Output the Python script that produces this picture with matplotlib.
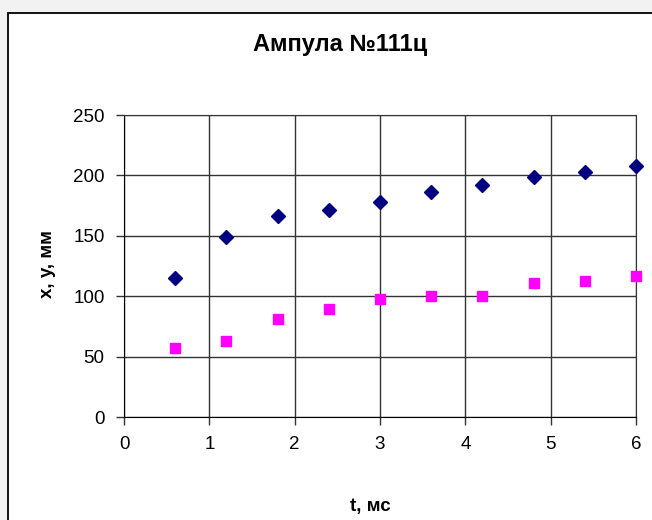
import matplotlib
matplotlib.use('Agg')
import matplotlib.pyplot as plt
from matplotlib.patches import Rectangle

plt.rcParams['font.family'] = ['Liberation Sans', 'DejaVu Sans']

# time, ms
t = [0.6, 1.2, 1.8, 2.4, 3.0, 3.6, 4.2, 4.8, 5.4, 6.0]
# x and y coordinates, mm
x_mm = [115, 149, 166, 171, 178, 186, 192, 199, 203, 208]
y_mm = [57, 63, 81.5, 89, 98, 100, 100, 111, 112.5, 117]

xticks = [0, 1, 2, 3, 4, 5, 6]
yticks = [0, 50, 100, 150, 200, 250]

W, H = 652, 520
fig = plt.figure(figsize=(W / 100, H / 100), dpi=100)
fig.patch.set_facecolor('#f2f2f2')
# white chart area with black frame (runs off the right and bottom edge)
fig.patches.append(Rectangle((8 / W, -0.1), 1.2, 1.1 - 13 / H,
                             transform=fig.transFigure, facecolor='white',
                             edgecolor='black', linewidth=1.3, zorder=-10))

ax = fig.add_axes([124 / W, 1 - 417 / H, (636 - 124) / W, (417 - 115) / H])
ax.set_zorder(2)
ax.set_facecolor('white')

ax.plot(t, x_mm, linestyle='none', marker='D', markersize=7.5,
        color='#000080', clip_on=False, zorder=3)
ax.plot(t, y_mm, linestyle='none', marker='s', markersize=7.5,
        color='#ff00ff', clip_on=False, zorder=3)

ax.set_xlim(0, 6)
ax.set_ylim(0, 250)
ax.set_xticks(xticks)
ax.set_yticks(yticks)
ax.tick_params(labelsize=13.5, direction='out', length=6, width=1,
               color='#333333', pad=8)
ax.grid(True, color='#333333', linewidth=1)
for s in ax.spines.values():
    s.set_color('#333333')
ax.spines['left'].set_color('black')
ax.spines['bottom'].set_color('black')

fig.text(340 / W, 1 - 45 / H, 'Ампула №111ц', ha='center', va='center',
         fontsize=17, fontweight='bold')
fig.text(370 / W, 1 - 506 / H, 't, мс', ha='center', va='center',
         fontsize=13.5, fontweight='bold')
fig.text(47 / W, 1 - 264 / H, 'x, y, мм', ha='center', va='center',
         rotation=90, fontsize=13.5, fontweight='bold')

fig.savefig('out.png', dpi=100, facecolor=fig.get_facecolor())
